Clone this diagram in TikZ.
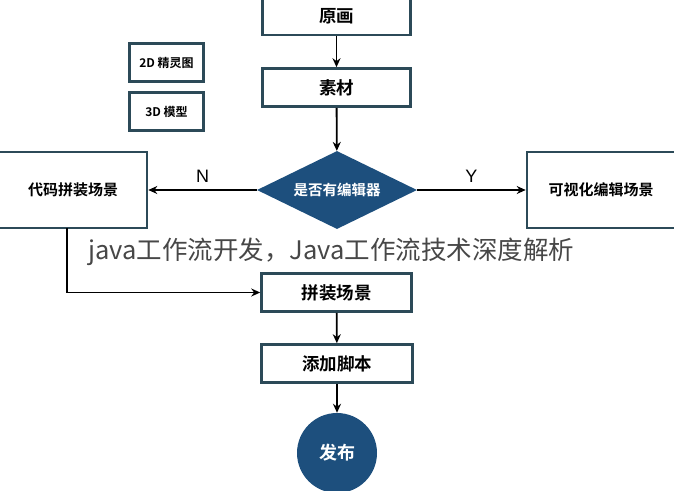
\documentclass[tikz,border=0pt]{standalone}
\usepackage{fontspec}
\setmainfont{Liberation Sans}
\newfontfamily\cjk{Noto Sans CJK SC}
\newfontfamily\cjkb{Noto Sans CJK SC Bold}
\usetikzlibrary{shapes.geometric,arrows.meta}
\definecolor{bord}{HTML}{2C4A58}
\definecolor{navy}{HTML}{1D4F7D}
\begin{document}
\begin{tikzpicture}[x=1pt,y=-1pt,
  box/.style={draw=bord,line width=2.6pt,fill=white,inner sep=0pt,font=\cjkb\fontsize{17.5}{20}\selectfont},
  arr/.style={-{Stealth[length=9pt,width=8pt]},line width=1.8pt,black}]
\useasboundingbox (0,0) rectangle (674,490);
\node[box,minimum width=148pt,minimum height=38pt] (yh) at (336.5,16) {原画};
\node[box,minimum width=148pt,minimum height=38pt] (sc) at (336.5,87.5) {素材};
\node[box,minimum width=74pt,minimum height=38pt,font=\cjkb\fontsize{12}{14}\selectfont] (d2) at (166.5,62.5) {2D 精灵图};
\node[box,minimum width=74pt,minimum height=38pt,font=\cjkb\fontsize{12}{14}\selectfont] (d3) at (166.5,111.5) {3D 模型};
\node[diamond,fill=navy,text=white,minimum width=160pt,minimum height=78pt,aspect=2,inner sep=0pt,font=\cjkb\fontsize{14.5}{16}\selectfont] (dm) at (337,190) {是否有编辑器};
\node[box,minimum width=148pt,minimum height=76pt,font=\cjkb\fontsize{15}{17}\selectfont] (lb) at (73,190) {代码拼装场景};
\node[box,minimum width=148pt,minimum height=76pt,font=\cjkb\fontsize{15}{17}\selectfont] (rb) at (601,190) {可视化编辑场景};
\node[box,minimum width=150pt,minimum height=38pt] (pz) at (336.5,292.5) {拼装场景};
\node[box,minimum width=151pt,minimum height=38pt] (tj) at (337,363.5) {添加脚本};
\node[circle,fill=navy,text=white,minimum size=80pt,inner sep=0pt,font=\cjkb\fontsize{18}{20}\selectfont] (fb) at (337,453) {发布};
\draw[arr] (yh) -- (sc);
\draw[arr] (sc) -- (dm);
\draw[arr] (dm) -- node[above=3pt,font=\fontsize{18}{20}\selectfont]{N} (lb);
\draw[arr] (dm) -- node[above=3pt,font=\fontsize{18}{20}\selectfont]{Y} (rb);
\coordinate (c1) at (67,228);
\draw[arr] (c1) |- (pz);
\draw[arr] (pz) -- (tj);
\draw[arr] (tj) -- (fb);
\node[font=\cjk\fontsize{25.5}{28}\selectfont,text=black!72,anchor=west,inner sep=0pt] (wm) at (88,252) {java工作流开发，Java工作流技术深度解析};
\end{tikzpicture}
\end{document}
